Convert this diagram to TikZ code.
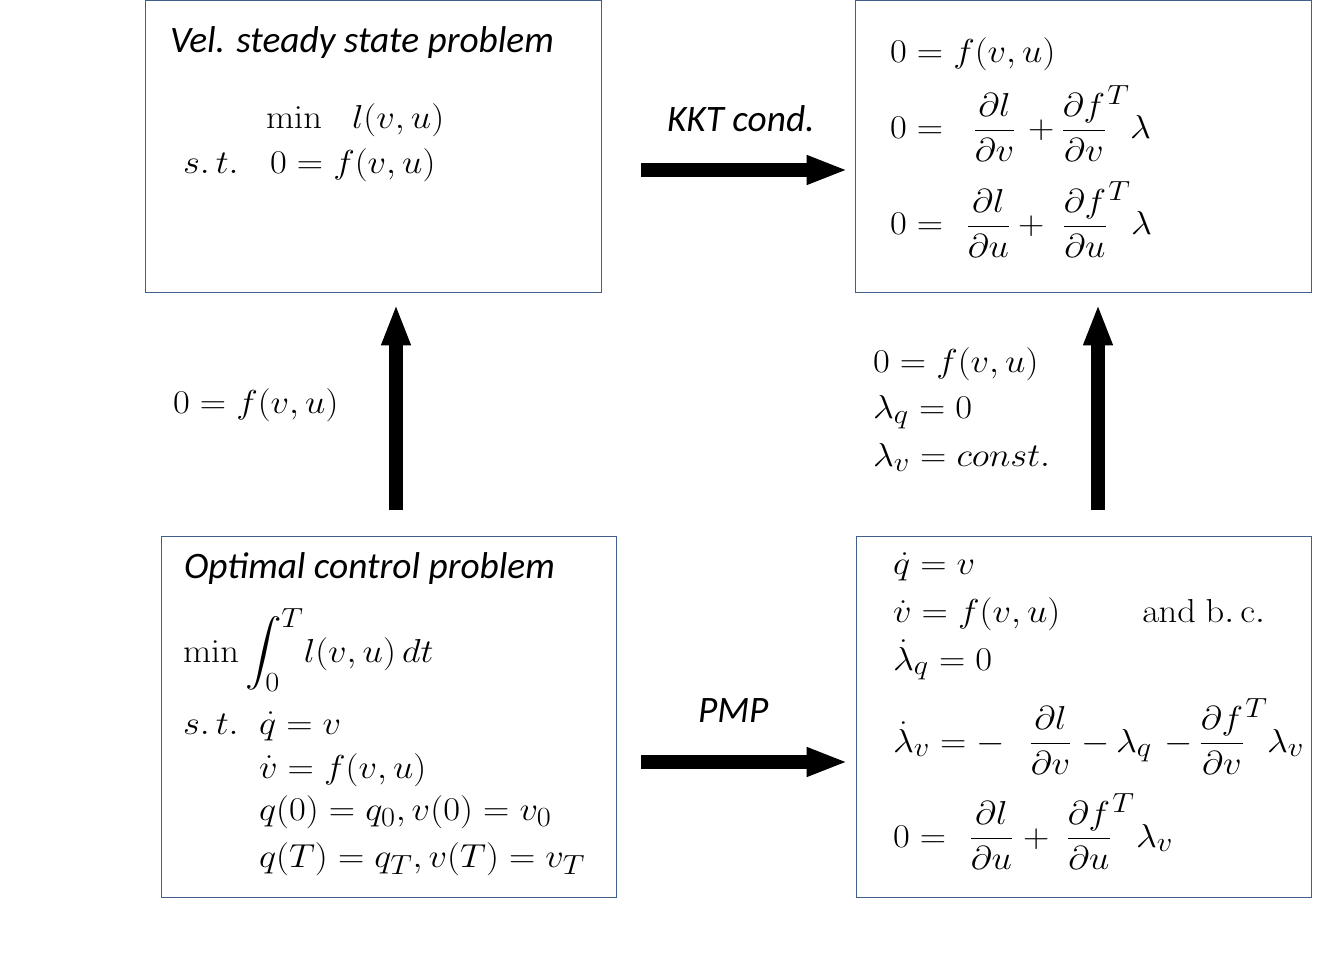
\documentclass[tikz,border=0pt]{standalone}
\usepackage{amsmath}
\usepackage{graphicx}
\usepackage[no-math]{fontspec}
\setmainfont{Carlito}
\usetikzlibrary{arrows.meta}
\definecolor{boxblue}{RGB}{65,95,140}
\newcommand{\mth}[1]{\scalebox{1.1}[1]{$\displaystyle #1$}}
\newcommand{\fT}{\partial f\rlap{$^{\kern1.5pt T}$}}
\tikzset{
  box/.style={draw=boxblue, line width=0.75pt, rectangle, inner sep=0pt, outer sep=0pt, anchor=north west},
  txt/.style={inner sep=0pt, outer sep=0pt, anchor=base west, font=\fontsize{29}{35}\selectfont},
  ttl/.style={inner sep=0pt, outer sep=0pt, anchor=base west, font=\fontsize{28}{34}\selectfont\itshape},
  bigarrow/.style={line width=10.5pt, -{Triangle[length=31pt, width=20pt]}}
}
\begin{document}
\begin{tikzpicture}[x=0.75pt,y=-0.75pt]
\useasboundingbox (0,0) rectangle (1329,980);
% boxes
\node[box, minimum width=342pt, minimum height=219pt] (tl) at (145,1) {};
\node[box, minimum width=342pt, minimum height=219pt] (tr) at (855,1) {};
\node[box, minimum width=341.25pt, minimum height=270pt] (bl) at (161,537) {};
\node[box, minimum width=341.25pt, minimum height=270pt] (br) at (856,537) {};
% top-left box
\node[ttl] (tlt) at (170,53) {Vel. steady state problem};
\node[txt] (tlmin) at (266,129) {\mth{\min}};
\node[txt] (tlobj) at (352,129) {\mth{l(v,u)}};
\node[txt] (tlst) at (183,174) {\mth{s.\,t.}};
\node[txt] (tlcon) at (270,174) {\mth{0=f(v,u)}};
% top-right box
\node[txt] (tr1) at (890,63) {\mth{0=f(v,u)}};
\node[txt] (tr2a) at (890,139) {\mth{0=}};
\node[txt] (tr2b) at (973,139) {\mth{\frac{\partial l}{\partial v}}};
\node[txt] (tr2c) at (1028,139) {\mth{+}};
\node[txt] (tr2d) at (1061,139) {\mth{\frac{\fT}{\partial v}}};
\node[txt] (tr2e) at (1130,139) {\mth{\lambda}};
\node[txt] (tr3a) at (890,235) {\mth{0=}};
\node[txt] (tr3b) at (966,235) {\mth{\frac{\partial l}{\partial u}}};
\node[txt] (tr3c) at (1018,235) {\mth{+}};
\node[txt] (tr3d) at (1062,235) {\mth{\frac{\fT}{\partial u}}};
\node[txt] (tr3e) at (1131,235) {\mth{\lambda}};
% middle labels
\node[txt] (ml) at (173,414) {\mth{0=f(v,u)}};
\node[txt] (mr1) at (873,373) {\mth{0=f(v,u)}};
\node[txt] (mr2) at (873,419) {\mth{\lambda_q=0}};
\node[txt] (mr3) at (873,467) {\mth{\lambda_v=const.}};
\node[ttl] (kkt) at (667,132) {KKT cond.};
\node[ttl] (pmp) at (698,722) {PMP};
% bottom-left box
\node[ttl] (blt) at (184,579) {Optimal control problem};
\node[txt] (blobj) at (183,662) {\mth{\min\int_0^T\! l(v,u)\,dt}};
\node[txt] (blst) at (183,734) {\mth{s.\,t.}};
\node[txt] (bl1) at (259,734) {\mth{\dot q=v}};
\node[txt] (bl2) at (259,778) {\mth{\dot v=f(v,u)}};
\node[txt] (bl3) at (259,820) {\mth{q(0)=q_0,v(0)=v_0}};
\node[txt] (bl4) at (259,867) {\mth{q(T)=q_T,v(T)=v_T}};
% bottom-right box
\node[txt] (br1) at (893,575) {\mth{\dot q=v}};
\node[txt] (br2) at (893,623) {\mth{\dot v=f(v,u)}};
\node[txt] (brbc) at (1142,623) {\mth{\mathrm{and\ b.\,c.}}};
\node[txt] (br3) at (893,670) {\mth{\dot\lambda_q=0}};
\node[txt] (br4a) at (893,752) {\mth{\dot\lambda_v=-}};
\node[txt] (br4b) at (1029,752) {\mth{\frac{\partial l}{\partial v}}};
\node[txt] (br4c) at (1081,752) {\mth{-}};
\node[txt] (br4d) at (1116,752) {\mth{\lambda_q}};
\node[txt] (br4e) at (1164,752) {\mth{-}};
\node[txt] (br4f) at (1199,752) {\mth{\frac{\fT}{\partial v}}};
\node[txt] (br4g) at (1267,752) {\mth{\lambda_v}};
\node[txt] (br5a) at (893,847) {\mth{0=}};
\node[txt] (br5b) at (969,847) {\mth{\frac{\partial l}{\partial u}}};
\node[txt] (br5c) at (1023,847) {\mth{+}};
\node[txt] (br5d) at (1066,847) {\mth{\frac{\fT}{\partial u}}};
\node[txt] (br5e) at (1136,847) {\mth{\lambda_v}};
% arrows
\coordinate (a1s) at (641,170); \coordinate (a1e) at (848,170);
\coordinate (a2s) at (641,762); \coordinate (a2e) at (848,762);
\coordinate (a3s) at (396,510); \coordinate (a3e) at (396,304);
\coordinate (a4s) at (1098,510); \coordinate (a4e) at (1098,304);
\draw[bigarrow] (a1s) -- (a1e);
\draw[bigarrow] (a2s) -- (a2e);
\draw[bigarrow] (a3s) -- (a3e);
\draw[bigarrow] (a4s) -- (a4e);
\end{tikzpicture}
\end{document}
